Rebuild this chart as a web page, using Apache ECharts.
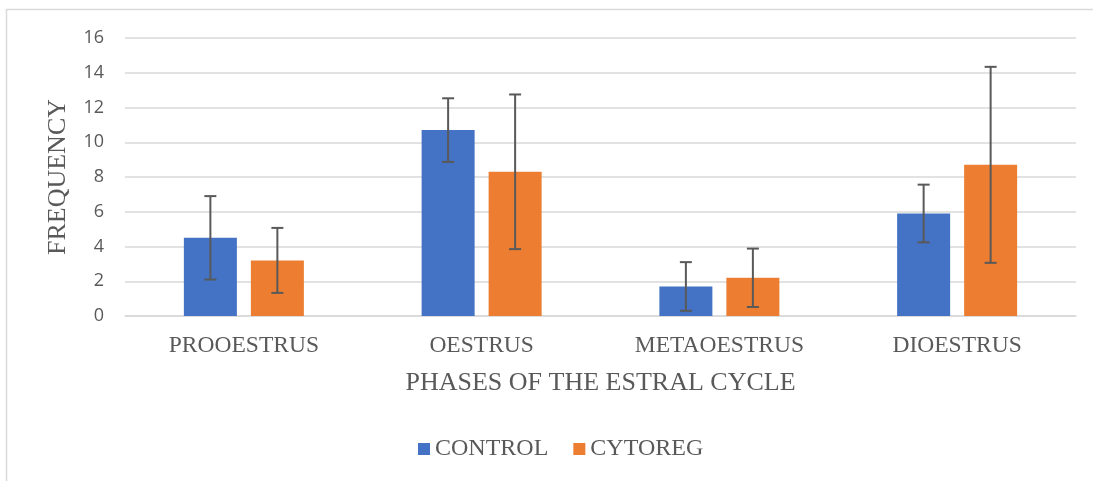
<!DOCTYPE html>
<html>
<head>
<meta charset="utf-8">
<style>
  html, body { margin: 0; padding: 0; background: #fff; }
  #chart { width: 1093px; height: 481px; }
</style>
<script src="https://cdn.jsdelivr.net/npm/echarts@6/dist/echarts.min.js"></script>
</head>
<body>
<div id="chart"></div>
<script>
  // data
  var categories = ['PROOESTRUS', 'OESTRUS', 'METAOESTRUS', 'DIOESTRUS']
  var controlValues = [4.5, 10.7, 1.7, 5.9]
  var controlErr = [2.4, 1.83, 1.4, 1.66]
  var cytoregValues = [3.2, 8.3, 2.2, 8.7]
  var cytoregErr = [1.87, 4.45, 1.68, 5.64]

  var serif = '"Liberation Serif", "Times New Roman", serif'
  var grey = '#595959'
  var barWidth = 53
  var barGapPx = 14

  // error bar layer, shifted onto the bar of each series
  function errorSeries(name, values, errs, side) {
    var data = []
    for (var i = 0; i < values.length; i++) {
      data.push([i, values[i], errs[i]])
    }
    return {
      name: name + ' err',
      type: 'custom',
      z: 10,
      silent: true,
      renderItem: function(params, api) {
        var idx = api.value(0)
        var v = api.value(1)
        var e = api.value(2)
        var hi = api.coord([idx, v + e])
        var lo = api.coord([idx, v - e])
        var x = hi[0] + side * (barWidth / 2 + barGapPx / 2)
        var cap = 6
        var style = { stroke: grey, lineWidth: 2, fill: null }
        return {
          type: 'group',
          children: [
            { type: 'line', shape: { x1: x, y1: hi[1], x2: x, y2: lo[1] }, style: style },
            { type: 'line', shape: { x1: x - cap, y1: hi[1], x2: x + cap, y2: hi[1] }, style: style },
            { type: 'line', shape: { x1: x - cap, y1: lo[1], x2: x + cap, y2: lo[1] }, style: style }
          ]
        }
      },
      data: data
    }
  }

  var myChart = echarts.init(document.getElementById('chart'))
  var option = {
    backgroundColor: '#fff',
    animation: false,
    color: ['#4472c4', '#ed7d31'],
    graphic: [{
      type: 'rect',
      shape: { x: 6.5, y: 9.5, width: 1100, height: 500 },
      style: { fill: null, stroke: '#d9d9d9', lineWidth: 1.5 },
      silent: true
    }],
    grid: { left: 125, right: 17, top: 38, bottom: 165 },
    legend: {
      data: ['CONTROL', 'CYTOREG'],
      bottom: 15,
      left: 413,
      itemWidth: 12,
      itemHeight: 12,
      itemGap: 25,
      icon: 'rect',
      textStyle: { fontFamily: serif, fontSize: 24, color: grey, padding: [0, 0, 0, 0] }
    },
    xAxis: {
      type: 'category',
      data: categories,
      name: 'PHASES OF THE ESTRAL CYCLE',
      nameLocation: 'middle',
      nameGap: 54,
      nameTextStyle: { fontFamily: serif, fontSize: 26, color: grey },
      axisLine: { lineStyle: { color: '#d9d9d9', width: 1.5 } },
      axisTick: { show: false },
      axisLabel: { fontFamily: serif, fontSize: 23.5, color: grey, margin: 18 }
    },
    yAxis: {
      type: 'value',
      min: 0,
      max: 16,
      interval: 2,
      name: 'FREQUENCY',
      nameLocation: 'middle',
      nameGap: 54,
      nameRotate: 90,
      nameTextStyle: { fontFamily: serif, fontSize: 26, color: grey },
      axisLine: { show: false },
      axisTick: { show: false },
      splitLine: { lineStyle: { color: '#d9d9d9', width: 1.5 } },
      axisLabel: { fontFamily: '"Open Sans", Roboto, sans-serif', fontSize: 18, color: grey, margin: 21 }
    },
    series: [
      {
        name: 'CONTROL',
        type: 'bar',
        barWidth: barWidth,
        barGap: (barGapPx / barWidth * 100) + '%',
        data: controlValues
      },
      {
        name: 'CYTOREG',
        type: 'bar',
        barWidth: barWidth,
        data: cytoregValues
      },
      errorSeries('CONTROL', controlValues, controlErr, -1),
      errorSeries('CYTOREG', cytoregValues, cytoregErr, 1)
    ]
  }
  myChart.setOption(option)
</script>
</body>
</html>
